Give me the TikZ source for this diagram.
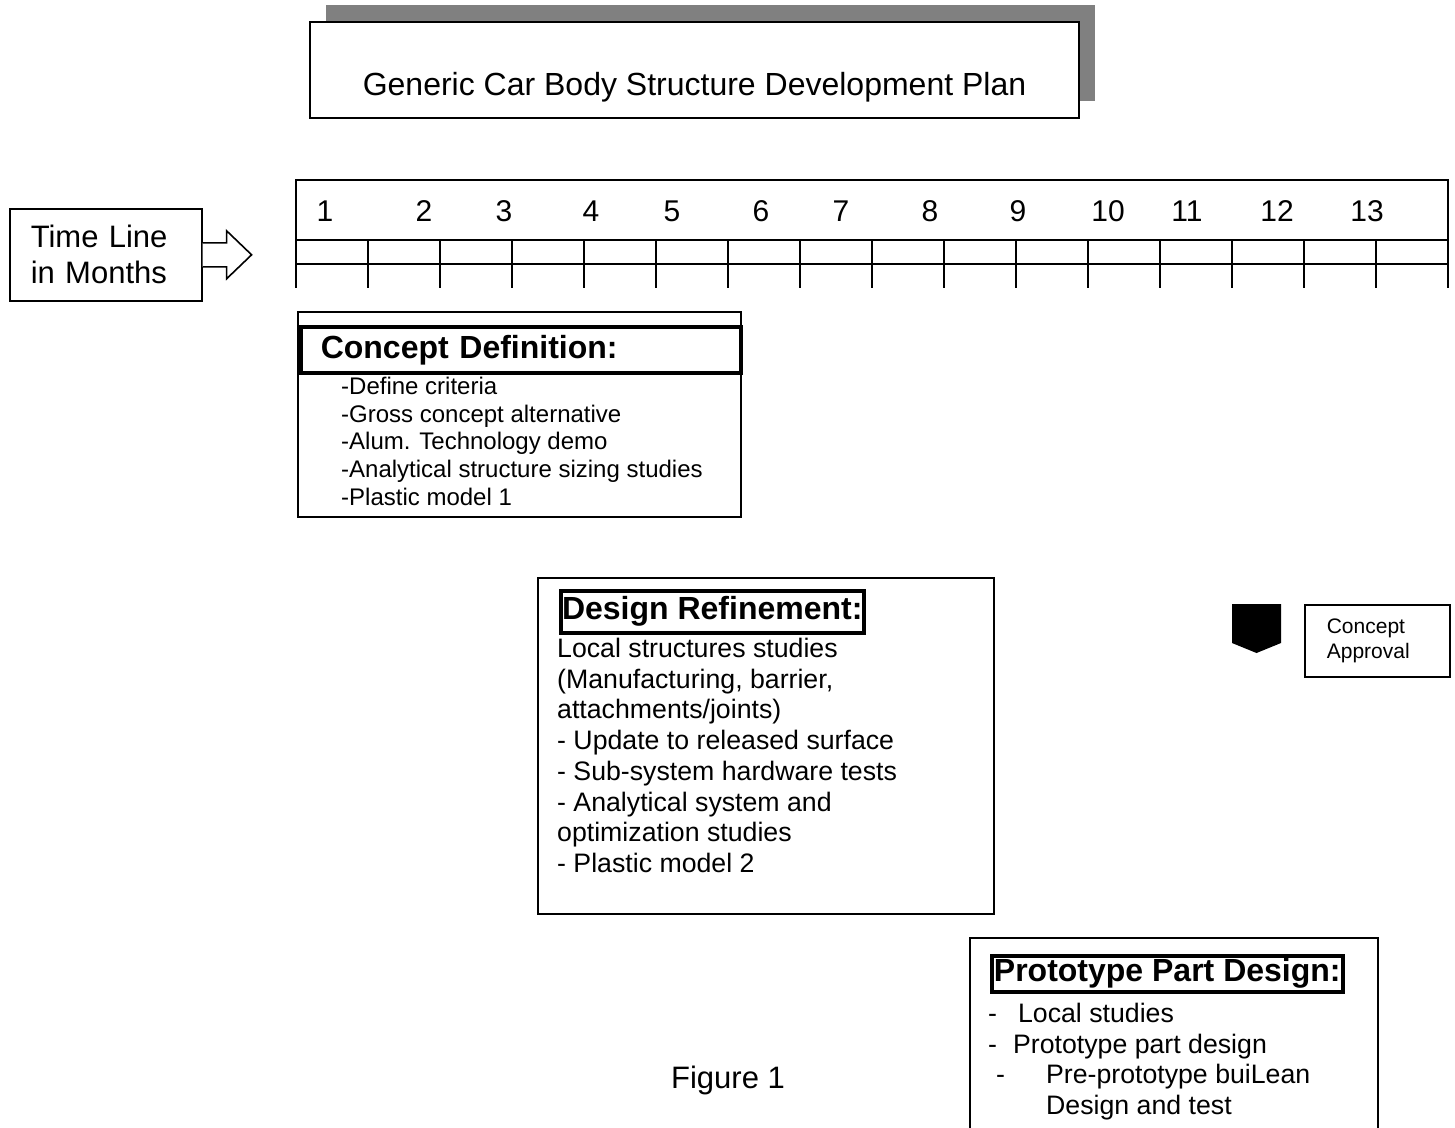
\documentclass[tikz,border=0pt]{standalone}
\usepackage{fontspec}
\setmainfont{Liberation Sans}
\usepackage{tikz}
\usetikzlibrary{
  positioning,
  calc,
  shadows
}
\newcommand{\fsz}[2]{\fontsize{#1}{#2}\selectfont}
\tikzset{
  planbox/.style={draw, line width=1.6pt, inner sep=0pt, anchor=north west},
  headbox/.style={draw, line width=3.5pt, inner sep=0pt, anchor=north west, font=\fsz{32}{36}\bfseries},
  bigtext/.style={font=\fsz{31}{36}, inner sep=0pt},
  bodytext/.style={font=\fsz{24}{27.7}, align=left, inner sep=0pt, anchor=north west},
  monthnum/.style={font=\fsz{30}{34}, inner sep=0pt, anchor=base},
  gridline/.style={line width=1.6pt},
  hollowarrow/.style={line width=1.6pt, fill=white, line join=miter},
  milestone/.style={fill=black}
}
\begin{document}
\begin{tikzpicture}[x=1pt, y=-1pt]
  \useasboundingbox (0,0) rectangle (1455,1127);
  \clip (0,0) rectangle (1455,1127);

  % title with shadow
  \node[planbox, anchor=center, minimum width=769pt, minimum height=96pt, fill=white,
    drop shadow={shadow xshift=16pt, shadow yshift=17pt, fill=black!50, opacity=1}] (plan) at (694.5,70) {};
  \node[bigtext, font=\fsz{32}{36}, anchor=base] (plantitle) at (694.5,95) {Generic Car Body Structure Development Plan};

  % time line
  \node[planbox, minimum height=92pt, text width=150pt, inner xsep=21pt, align=left, font=\fsz{31}{36}] (timeline) at (9,208) {Time Line\\in Months};
  \draw[hollowarrow] ([yshift=12pt]timeline.east) -- ++(24,0) -- ++(0,-12) -- ++(25,24) -- ++(-25,24) -- ++(0,-12) -- ++(-24,0);

  \draw[gridline] (296,180) rectangle (1448,240);
  \draw[gridline] (296,264) -- (1448,264);
  \foreach \i in {0,...,16}
    \draw[gridline] ({296+72*\i},240) -- ({296+72*\i},288);
  \foreach \n/\x in {1/325,2/424,3/504,4/591,5/672,6/761,7/841,8/930,9/1018,10/1108,11/1187,12/1277,13/1367}
    \node[monthnum] (month\n) at (\x,221) {\n};

  % concept definition
  \node[planbox, minimum width=443pt, minimum height=205pt] (concept) at (297,311) {};
  \node[headbox, text width=400pt, inner xsep=20pt, minimum height=46pt, align=left] (concepthead) at (299,325) {Concept Definition:};
  \node[bodytext] (conceptbody) at (341,377) {-Define criteria\\-Gross concept alternative\\-Alum. Technology demo\\-Analytical structure sizing studies\\-Plastic model 1};

  % design refinement
  \node[planbox, minimum width=456pt, minimum height=336pt] (refine) at (537,577) {};
  \node[headbox, minimum width=303pt, minimum height=42pt] (refinehead) at (559,589) {Design Refinement:};
  \node[bodytext, font=\fsz{26.7}{30.7}] (refinebody) at (557,638) {Local structures studies\\(Manufacturing, barrier,\\attachments/joints)\\- Update to released surface\\- Sub-system hardware tests\\- Analytical system and\\optimization studies\\- Plastic model 2};

  % concept approval
  \fill[milestone] (1232,604) -- (1281,604) -- (1281,643) -- (1256.5,653) -- (1232,643) -- cycle;
  \node[planbox, minimum height=72pt, text width=101pt, inner xsep=22pt, align=left, font=\fsz{21}{25}] (approval) at (1304,604) {Concept\\Approval};

  % prototype part design
  \node[planbox, minimum width=408pt, minimum height=260pt] (proto) at (969,937) {};
  \node[headbox, minimum width=351pt, minimum height=36pt] (protohead) at (990,954) {Prototype Part Design:};
  \node[bodytext, font=\fsz{26.7}{30.6}] (protobody) at (988,1003) {-\hspace*{21pt}Local studies\\-\hspace*{16pt}Prototype part design\\\hspace*{8pt}-\hspace*{41pt}Pre-prototype buiLean\\\hspace*{58pt}Design and test};

  \node[bigtext, anchor=base] (figlabel) at (728,1088) {Figure 1};
\end{tikzpicture}
\end{document}
